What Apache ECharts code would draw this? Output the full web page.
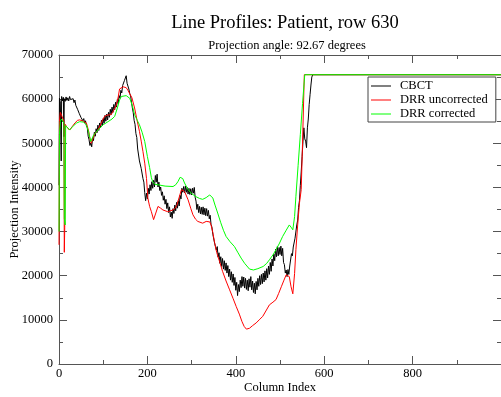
<!DOCTYPE html>
<html>
<head>
<meta charset="utf-8">
<script src="https://cdn.jsdelivr.net/npm/echarts@6/dist/echarts.min.js"></script>
<style>
  html, body { margin: 0; padding: 0; background: #fff; }
  #chart { width: 501px; height: 397px; }
</style>
</head>
<body>
<div id="chart"></div>
<script>
// Line profiles across row 630 of the patient projection.
const seriesNames = ['CBCT', 'DRR uncorrected', 'DRR corrected'];
const xTicks = [0, 200, 400, 600, 800];

// [column, intensity] pairs per profile
const cbct = [
  [0,40500],[1,60200],[3,59400],[5,46000],[6,60600],[8,59600],[10,60400],[11,51500],[12,60100],[14,59500],
  [16,60500],[18,59700],[20,60300],[22,59600],[24,60600],[26,59900],[28,60300],[30,59500],[32,60100],[34,59200],
  [36,59800],[38,58600],[40,59000],[42,57700],[44,57900],[46,56700],[48,56900],[50,55800],[52,56200],[54,55100],
  [56,55600],[58,54600],[60,55100],[62,54000],[64,53500],[66,51600],[68,50800],[70,49500],[72,50100],[74,49200],
  [76,51200],[78,50600],[80,52500],[82,51600],[84,53300],[86,52400],[88,54100],[90,52900],[92,54600],[94,53500],
  [96,55200],[98,54000],[100,55600],[102,54500],[104,56300],[106,55000],[108,56600],[110,55300],[112,57000],[114,55900],
  [116,57700],[118,56500],[120,58200],[122,57000],[124,58800],[126,57600],[128,59300],[130,58200],[132,59900],[134,59000],
  [136,60800],[138,60200],[140,62000],[142,61400],[144,63100],[146,62800],[148,64200],[150,64400],[152,65300],[154,63600],
  [156,63300],[158,62300],[160,61300],[162,60700],[164,59300],[166,58000],[168,56900],[170,55200],[172,54300],[174,52200],
  [176,51300],[178,48700],[180,48300],[182,46000],[184,46200],[186,44300],[188,44000],[190,42000],[192,41200],[194,38800],
  [196,37000],[198,38700],[200,37400],[202,39800],[204,38500],[206,40600],[208,39300],[210,41300],[212,39800],[214,41600],
  [216,40100],[218,42700],[220,41200],[222,43000],[224,40100],[226,41200],[228,39300],[230,40100],[232,38200],[234,39000],
  [236,37100],[238,38100],[240,36200],[242,37300],[244,35200],[246,36500],[248,34300],[250,35600],[252,33300],[254,34400],
  [256,33000],[258,35200],[260,34100],[262,36000],[264,34700],[266,36600],[268,35300],[270,37000],[272,35800],[274,38200],
  [276,37400],[278,39800],[280,38900],[282,40200],[284,38800],[286,40300],[288,38900],[290,40000],[292,38500],[294,39800],
  [296,38400],[298,39700],[300,38300],[302,39800],[304,38700],[306,40000],[308,37800],[310,36900],[312,35000],[314,36200],
  [316,34300],[318,35700],[320,34000],[322,35500],[324,33900],[326,35600],[328,33800],[330,35300],[332,33600],[334,35200],
  [336,33500],[338,34800],[340,32900],[342,33700],[344,31600],[346,31000],[348,29400],[350,29300],[352,27400],[354,27800],
  [356,25800],[358,26600],[360,24200],[362,25200],[364,22800],[366,24300],[368,22100],[370,23900],[372,21500],[374,23400],
  [376,21200],[378,22900],[380,20600],[382,22300],[384,19800],[386,21500],[388,19000],[390,20900],[392,18500],[394,20400],
  [396,17800],[398,19600],[400,16700],[402,18500],[404,15500],[406,18000],[408,16400],[410,19000],[412,17300],[414,19800],
  [416,17600],[418,19700],[420,17200],[422,19400],[424,16900],[426,19000],[428,16600],[430,19300],[432,17400],[434,19800],
  [436,16800],[438,18800],[440,16200],[442,18300],[444,15900],[446,18700],[448,16800],[450,19400],[452,17600],[454,20000],
  [456,18000],[458,20300],[460,18200],[462,20600],[464,18600],[466,21100],[468,19000],[470,21600],[472,19500],[474,22200],
  [476,20300],[478,23000],[480,21000],[482,23800],[484,22200],[486,24900],[488,23400],[490,26000],[492,24300],[494,26600],
  [496,24500],[498,26400],[500,24800],[502,26700],[504,24500],[506,26200],[508,23000],[510,22500],[512,20600],[514,21300],
  [516,19800],[518,21400],[520,20300],[522,22200],[524,22400],[526,25000],[528,24500],[530,26500],[532,26400],[534,28500],
  [536,28800],[538,31500],[540,32600],[542,35500],[544,37000],[546,40500],[548,43500],[550,47000],[552,50500],[554,53500],
  [556,51000],[558,50500],[560,49000],[562,53500],[564,55500],[566,58800],[568,61000],[570,63200],[572,65000],[574,65535],
  [1000,65535]
];

const drrUncorrected = [
  [0,27000],[1,55000],[3,57000],[6,56300],[9,55500],[11,55000],[12,25300],[13,31000],[14,54300],[17,53800],
  [20,53500],[24,53000],[30,53800],[36,54600],[42,55200],[47,55300],[55,55000],[62,54600],[67,52800],[70,51000],
  [73,50000],[77,51200],[82,52300],[88,53000],[95,54500],[103,56100],[110,56400],[118,56500],[124,57500],[130,58700],
  [134,60500],[137,62300],[141,62700],[145,62800],[148,62900],[152,62600],[156,62000],[160,61700],[165,60300],[171,58000],
  [176,55500],[182,52700],[186,50500],[190,48100],[194,45500],[198,42000],[201,37600],[205,35700],[209,34500],[214,32700],
  [219,34200],[224,35700],[230,35300],[235,34900],[246,34500],[258,34900],[263,35300],[267,36100],[272,37800],[277,39500],
  [284,39100],[292,37200],[298,35300],[303,33800],[309,32800],[314,32300],[325,31900],[333,32300],[337,32700],[341,32200],
  [344,31500],[348,29800],[352,27500],[357,25200],[363,23300],[370,21000],[378,18800],[386,16800],[394,14800],[401,13000],
  [408,11300],[414,9600],[419,8500],[424,7900],[431,8100],[438,8700],[446,9300],[453,10000],[461,10800],[468,12000],
  [476,13400],[484,14000],[491,14600],[497,16000],[503,17500],[509,19000],[514,20200],[518,20300],[521,19800],[525,17500],
  [529,15900],[533,20500],[536,25900],[540,31500],[544,36400],[548,39500],[551,50000],[555,65535],[1000,65535]
];

const drrCorrected = [
  [0,30000],[1,52000],[3,55000],[6,55500],[9,55000],[11,54500],[12,33000],[14,31500],[15,54000],[18,53600],
  [24,53000],[33,54000],[40,54600],[47,54900],[55,54800],[62,54200],[67,52500],[72,50400],[78,51800],[88,53000],
  [100,54200],[111,54900],[120,55500],[126,56100],[132,58000],[137,59800],[141,60600],[145,61000],[152,60800],[160,60200],
  [166,58500],[171,56500],[177,55200],[182,54200],[188,52500],[194,50400],[200,47000],[205,44500],[209,42200],[212,41300],
  [217,40700],[224,40600],[240,40300],[258,40200],[264,40600],[269,41300],[274,42300],[277,42600],[280,42000],[284,41000],
  [292,39500],[300,38600],[310,37900],[318,37500],[325,37300],[333,37700],[341,38300],[345,38000],[348,37600],[353,36000],
  [359,34200],[366,32000],[372,30300],[378,28900],[387,27700],[397,26600],[405,25200],[412,24000],[420,22800],[431,21500],
  [440,21300],[450,21600],[462,22100],[470,22800],[476,23600],[484,24700],[491,25900],[499,27400],[506,28900],[514,30300],
  [521,31500],[525,31000],[529,30400],[533,33400],[536,38000],[541,45000],[546,52000],[551,59000],[556,65535],[1000,65535]
];

const FONT = '"Liberation Serif", "DejaVu Serif", serif';
const AXIS_COLOR = '#555';

const chart = echarts.init(document.getElementById('chart'), null, { renderer: 'canvas' });

function lineSeries(name, data, color, z) {
  return {
    name: name,
    type: 'line',
    data: data,
    symbol: 'none',
    showSymbol: false,
    animation: false,
    z: z,
    lineStyle: { color: color, width: 1 },
    itemStyle: { color: color }
  };
}

const xTickLabel = v => (xTicks.indexOf(v) >= 0 ? String(v) : '');
const yTickLabel = v => String(v);

// Shared axis frame: line kept on the grid edge, inward major and minor ticks
function baseAxis(position, max, interval) {
  return {
    type: 'value', min: 0, max: max, interval: interval, position: position,
    axisLine: { show: true, onZero: false, lineStyle: { color: AXIS_COLOR, width: 1 } },
    axisTick: { show: true, inside: true, length: 8, lineStyle: { color: AXIS_COLOR } },
    minorTick: { show: true, splitNumber: 2, length: 4, lineStyle: { color: AXIS_COLOR } },
    axisLabel: { show: false },
    splitLine: { show: false }
  };
}

const bottomAxis = Object.assign(baseAxis('bottom', 1000, 200), {
  name: 'Column Index', nameLocation: 'middle', nameGap: 17, nameMoveOverlap: false,
  nameTextStyle: { fontFamily: FONT, fontSize: 12.5, color: '#000' },
  axisLabel: { show: true, fontFamily: FONT, fontSize: 12.5, color: '#000', margin: 3, formatter: xTickLabel }
});

const leftAxis = Object.assign(baseAxis('left', 70000, 10000), {
  name: 'Projection Intensity', nameLocation: 'middle', nameGap: 38, nameMoveOverlap: false,
  nameTextStyle: { fontFamily: FONT, fontSize: 12.5, color: '#000' },
  axisLabel: { show: true, fontFamily: FONT, fontSize: 12.5, color: '#000', margin: 6, formatter: yTickLabel }
});

chart.setOption({
  backgroundColor: '#fff',
  animation: false,
  title: [
    {
      text: 'Line Profiles: Patient, row 630',
      left: 280, top: 9, textAlign: 'center',
      textStyle: { fontFamily: FONT, fontSize: 18.5, fontWeight: 'normal', color: '#000' }
    },
    {
      text: 'Projection angle: 92.67 degrees',
      left: 282, top: 34, textAlign: 'center',
      textStyle: { fontFamily: FONT, fontSize: 12.5, fontWeight: 'normal', color: '#000' }
    }
  ],
  legend: {
    data: seriesNames,
    orient: 'vertical',
    left: 368, top: 77,
    backgroundColor: '#fff',
    borderColor: '#444',
    borderWidth: 1,
    borderRadius: 0,
    padding: [2, 8, 1, 3],
    itemGap: 0,
    itemWidth: 20,
    itemHeight: 1,
    icon: 'rect',
    textStyle: { fontFamily: FONT, fontSize: 12.5, color: '#000', padding: [0, 0, 0, 4], lineHeight: 14 }
  },
  grid: { left: 59, right: 0, top: 55, bottom: 33, show: false, containLabel: false, outerBoundsMode: 'none' },
  xAxis: [bottomAxis, baseAxis('top', 1000, 200)],
  yAxis: [leftAxis, baseAxis('right', 70000, 10000)],
  series: [
    lineSeries(seriesNames[0], cbct, '#000000', 2),
    lineSeries(seriesNames[1], drrUncorrected, '#ff0000', 3),
    lineSeries(seriesNames[2], drrCorrected, '#00ff00', 4)
  ]
});
</script>
</body>
</html>
